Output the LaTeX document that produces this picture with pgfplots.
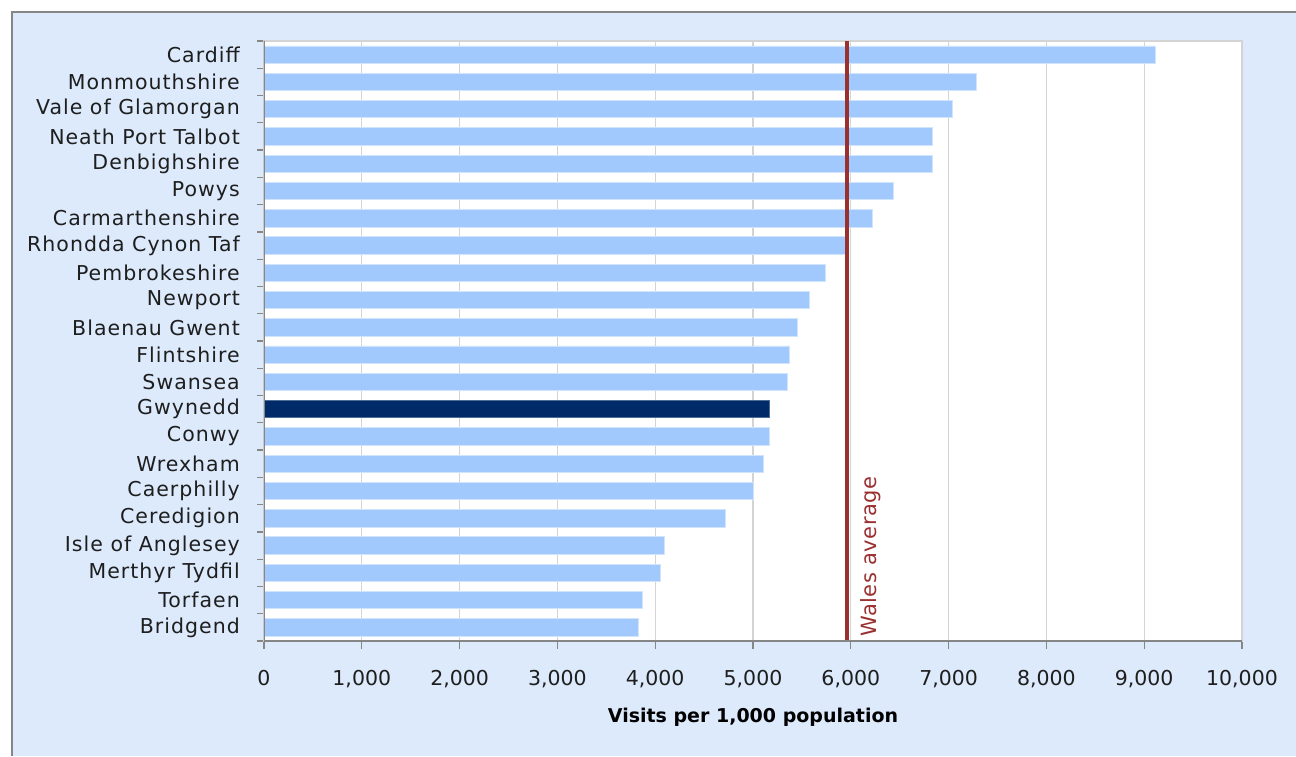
\documentclass[border=0pt]{standalone}
\usepackage{fontspec}
\setmainfont{DejaVu Sans}
\newfontfamily\lsfont{DejaVu Sans}[LetterSpace=5]
\newfontfamily\lsfontb{DejaVu Sans}[LetterSpace=2.5]
\usepackage{pgfplots}
\pgfplotsset{compat=1.18}
\definecolor{bgblue}{RGB}{220,234,252}
\definecolor{barblue}{RGB}{162,201,253}
\definecolor{navy}{RGB}{0,43,104}
\definecolor{avgred}{RGB}{155,48,48}
\definecolor{gridgray}{RGB}{212,212,212}
\definecolor{axisgray}{RGB}{134,134,134}
\definecolor{txt}{RGB}{30,30,30}
\begin{document}
\begin{tikzpicture}
\useasboundingbox (0pt,0pt) rectangle (1296pt,756pt);
\fill[white] (0pt,0pt) rectangle (1296pt,756pt);
\fill[bgblue] (12pt,0pt) rectangle (1296pt,744pt);
\draw[axisgray, line width=1.5pt] (12pt,0pt) -- (12pt,744pt) -- (1296pt,744pt);
\begin{axis}[
  at={(264pt,115pt)}, anchor=south west,
  scale only axis, width=978pt, height=600pt,
  xmin=0, xmax=10000, ymin=-0.5, ymax=21.5,
  scaled x ticks=false,
  axis background/.style={fill=white},
  axis line style={draw=gridgray, line width=1.2pt},
  xtick={0,1000,...,10000},
  xticklabels={0,{1,000},{2,000},{3,000},{4,000},{5,000},{6,000},{7,000},{8,000},{9,000},{10,000}},
  ytick={0,...,21},
  yticklabels={Bridgend,Torfaen,Merthyr Tydfil,Isle of Anglesey,Ceredigion,Caerphilly,Wrexham,Conwy,Gwynedd,Swansea,Flintshire,Blaenau Gwent,Newport,Pembrokeshire,Rhondda Cynon Taf,Carmarthenshire,Powys,Denbighshire,Neath Port Talbot,Vale of Glamorgan,Monmouthshire,Cardiff},
  minor ytick={-0.5,0.5,...,21.5},
  tick pos=left, tick align=outside,
  major tick length=8pt, minor tick length=7pt,
  major y tick style={draw=none},
  minor y tick style={draw=axisgray, line width=1.2pt},
  major x tick style={draw=axisgray, line width=1.2pt},
  xmajorgrids, major x grid style={draw=gridgray, line width=1.2pt},
  tick label style={font=\fontsize{20.5pt}{24pt}\selectfont, text=txt},
  yticklabel style={anchor=east, inner sep=0pt, xshift=-16pt, font=\fontsize{20.5pt}{24pt}\lsfont},
  xticklabel style={anchor=base, inner sep=0pt, yshift=-36pt},
  xlabel={Visits per 1,000 population},
  xlabel style={font=\fontsize{19pt}{22pt}\selectfont\bfseries, text=black, at={(axis description cs:0.5,-0.1267)}, anchor=center},
]
\addplot[xbar, bar width=17.3pt, bar shift=0pt, fill=barblue, draw=barblue!50!white, line width=0.8pt] coordinates {
(3825,0) (3865,1) (4050,2) (4090,3) (4720,4) (5005,5) (5110,6) (5170,7)
(5355,9) (5375,10) (5455,11) (5580,12) (5740,13) (5955,14) (6220,15) (6440,16)
(6830,17) (6830,18) (7035,19) (7280,20) (9110,21)};
\addplot[xbar, bar width=17.3pt, bar shift=0pt, fill=navy, draw=navy!70!white, line width=0.8pt] coordinates {(5170,8)};
\addplot[avgred, line width=4pt] coordinates {(5965,-0.5) (5965,21.5)};
\draw[axisgray, line width=1.5pt] (rel axis cs:0,1) -- (rel axis cs:0,0) -- (rel axis cs:1,0);
\node[xshift=13pt, yshift=4pt, rotate=90, anchor=north west, inner sep=0pt, text=avgred, font=\fontsize{21pt}{24pt}\lsfontb] at (axis cs:5965,-0.5) {Wales average};
\end{axis}
\end{tikzpicture}
\end{document}
